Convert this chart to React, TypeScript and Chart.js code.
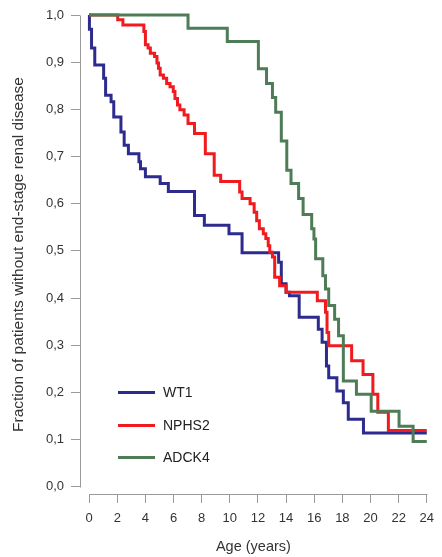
import React, { useEffect, useRef } from "react";
import { Chart, registerables } from "chart.js";

Chart.register(...registerables);

// ---- data ----
const seriesLabels = ["WT1", "NPHS2", "ADCK4"];
const seriesColors = ["#2d2b8e", "#f01a1f", "#4d7c57"];

const wt1Times = [0, 0.02, 0.17, 0.4, 1.03, 1.17, 1.56, 1.75, 2.26, 2.49, 2.79, 3.54, 3.65, 4.0, 5.05, 5.63, 7.49, 8.19, 9.94, 10.87, 13.47, 13.66, 14.0, 14.24, 14.93, 16.29, 16.56, 16.87, 17.03, 17.61, 18.07, 18.42, 19.5, 24];
const wt1Surv = [1.0, 0.97, 0.93, 0.894, 0.866, 0.83, 0.816, 0.784, 0.752, 0.724, 0.706, 0.689, 0.674, 0.657, 0.643, 0.626, 0.575, 0.554, 0.536, 0.496, 0.476, 0.43, 0.412, 0.405, 0.359, 0.334, 0.306, 0.256, 0.231, 0.203, 0.178, 0.143, 0.114, 0.114];

const nphs2Times = [0, 2.03, 2.4, 3.89, 4.0, 4.19, 4.35, 4.65, 4.82, 4.93, 5.05, 5.28, 5.51, 5.75, 5.98, 6.1, 6.28, 6.45, 6.75, 7.03, 7.49, 8.26, 8.89, 9.35, 10.7, 10.87, 11.44, 11.73, 11.91, 12.1, 12.38, 12.56, 12.73, 12.84, 13.03, 13.19, 13.54, 14.0, 16.22, 16.8, 16.91, 17.03, 18.66, 19.47, 20.17, 20.52, 21.27, 24];
const nphs2Surv = [1.0, 0.99, 0.979, 0.965, 0.937, 0.93, 0.919, 0.912, 0.898, 0.887, 0.873, 0.866, 0.855, 0.848, 0.838, 0.823, 0.809, 0.799, 0.788, 0.77, 0.749, 0.706, 0.66, 0.647, 0.625, 0.611, 0.6, 0.582, 0.564, 0.547, 0.536, 0.526, 0.511, 0.497, 0.487, 0.444, 0.426, 0.412, 0.394, 0.37, 0.327, 0.299, 0.267, 0.238, 0.196, 0.158, 0.119, 0.119];

const adck4Times = [0, 7.03, 9.82, 12.03, 12.61, 13.03, 13.26, 13.66, 14.05, 14.35, 14.89, 15.21, 15.82, 15.98, 16.1, 16.61, 16.8, 17.03, 17.45, 17.73, 18.07, 19.0, 20.05, 22.03, 23.03, 24];
const adck4Surv = [1.0, 0.972, 0.944, 0.886, 0.855, 0.825, 0.794, 0.733, 0.671, 0.643, 0.611, 0.577, 0.547, 0.525, 0.483, 0.447, 0.419, 0.384, 0.355, 0.32, 0.224, 0.196, 0.16, 0.128, 0.096, 0.096];

const xTickValues = [0, 2, 4, 6, 8, 10, 12, 14, 16, 18, 20, 22, 24];
const yTickValues = [0, 0.1, 0.2, 0.3, 0.4, 0.5, 0.6, 0.7, 0.8, 0.9, 1.0];
const xTitle = "Age (years)";
const yTitle = "Fraction of patients without end-stage renal disease";

const FONT = "'Liberation Sans', Arial, Helvetica, sans-serif";
const AXIS_COLOR = "#9a9a9a";
const TEXT_COLOR = "#333333";

const toPoints = (ts: number[], ss: number[]) => ts.map((t, i) => ({ x: t, y: ss[i] }));

const axisLinesPlugin = {
  id: "axisLines",
  beforeDatasetsDraw(chart: any) {
    const { ctx, scales } = chart;
    const xs = scales.x;
    const ys = scales.y;
    ctx.save();
    ctx.strokeStyle = AXIS_COLOR;
    ctx.lineWidth = 1;
    const ax = Math.round(chart.chartArea.left) + 0.5;
    ctx.beginPath();
    ctx.moveTo(ax, Math.round(ys.getPixelForValue(yTickValues[0])) + 0.5);
    ctx.lineTo(ax, Math.round(ys.getPixelForValue(yTickValues[yTickValues.length - 1])) + 0.5);
    ctx.stroke();
    const ay = Math.round(chart.chartArea.bottom) + 0.5;
    ctx.beginPath();
    ctx.moveTo(Math.round(xs.getPixelForValue(xTickValues[0])) + 0.5, ay);
    ctx.lineTo(Math.round(xs.getPixelForValue(xTickValues[xTickValues.length - 1])) + 0.5, ay);
    ctx.stroke();
    ctx.restore();
  },
};

const insetLegendPlugin = {
  id: "insetLegend",
  afterDatasetsDraw(chart: any, _args: any, opts: any) {
    const ctx = chart.ctx;
    ctx.save();
    ctx.font = `${opts.fontSize}px ${FONT}`;
    ctx.textBaseline = "middle";
    ctx.textAlign = "left";
    seriesLabels.forEach((label, i) => {
      const y = opts.rowsY[i];
      ctx.strokeStyle = seriesColors[i];
      ctx.lineWidth = 3;
      ctx.beginPath();
      ctx.moveTo(opts.lineX0, y);
      ctx.lineTo(opts.lineX1, y);
      ctx.stroke();
      ctx.fillStyle = "#222222";
      ctx.fillText(label, opts.textX, y + 0.5);
    });
    ctx.restore();
  },
};

export default function App() {
  const canvasRef = useRef<HTMLCanvasElement | null>(null);

  useEffect(() => {
    if (!canvasRef.current) return;
    const mk = (i: number, ts: number[], ss: number[], order: number) => ({
      label: seriesLabels[i],
      data: toPoints(ts, ss),
      stepped: "before" as const,
      borderColor: seriesColors[i],
      backgroundColor: seriesColors[i],
      borderWidth: 3,
      pointRadius: 0,
      fill: false,
      clip: false as any,
      borderJoinStyle: "miter" as const,
      borderCapStyle: "butt" as const,
      order,
    });
    const chart = new Chart(canvasRef.current, {
      type: "line",
      data: {
        datasets: [
          mk(0, wt1Times, wt1Surv, 2),
          mk(1, nphs2Times, nphs2Surv, 1),
          mk(2, adck4Times, adck4Surv, 0),
        ],
      },
      options: {
        responsive: false,
        animation: false,
        devicePixelRatio: 1,
        layout: { padding: { top: 15, right: 9, bottom: 0, left: 0 } },
        plugins: {
          legend: { display: false },
          tooltip: { enabled: false },
          insetLegend: {
            rowsY: [392.5, 425.5, 457.5],
            lineX0: 118,
            lineX1: 155,
            textX: 163,
            fontSize: 14,
          },
        } as any,
        scales: {
          x: {
            type: "linear",
            min: -0.65,
            max: 24,
            afterBuildTicks: (s: any) => {
              s.ticks = xTickValues.map((v) => ({ value: v }));
            },
            afterFit: (s: any) => {
              s.height = 63;
            },
            grid: { display: true, drawOnChartArea: false, drawTicks: true, tickLength: 9, color: AXIS_COLOR, lineWidth: 1 },
            border: { display: false },
            ticks: {
              autoSkip: false,
              maxRotation: 0,
              padding: 8,
              color: TEXT_COLOR,
              font: { family: FONT, size: 13 },
              callback: (v: any) => String(v),
            },
            title: {
              display: true,
              text: xTitle,
              color: TEXT_COLOR,
              font: { family: FONT, size: 14.5 },
              padding: { top: 0, bottom: 1.5 },
            },
          },
          y: {
            type: "linear",
            min: -0.0155,
            max: 1,
            afterBuildTicks: (s: any) => {
              s.ticks = yTickValues.map((v) => ({ value: v }));
            },
            afterFit: (s: any) => {
              s.width = 80;
            },
            grid: { display: true, drawOnChartArea: false, drawTicks: true, tickLength: 9, color: AXIS_COLOR, lineWidth: 1 },
            border: { display: false },
            ticks: {
              autoSkip: false,
              padding: 7,
              color: TEXT_COLOR,
              font: { family: FONT, size: 13 },
              callback: (v: any) => Number(v).toFixed(1).replace(".", ","),
            },
            title: {
              display: true,
              text: yTitle,
              color: TEXT_COLOR,
              font: { family: FONT, size: 15.5 },
              padding: { top: 9, bottom: 0 },
            },
          },
        },
      },
      plugins: [axisLinesPlugin, insetLegendPlugin],
    });
    return () => chart.destroy();
  }, []);

  return (
    <div style={{ position: "absolute", left: 0, top: 0, width: 442, height: 557, background: "#ffffff" }}>
      <canvas ref={canvasRef} width={442} height={557} style={{ display: "block" }} />
    </div>
  );
}
